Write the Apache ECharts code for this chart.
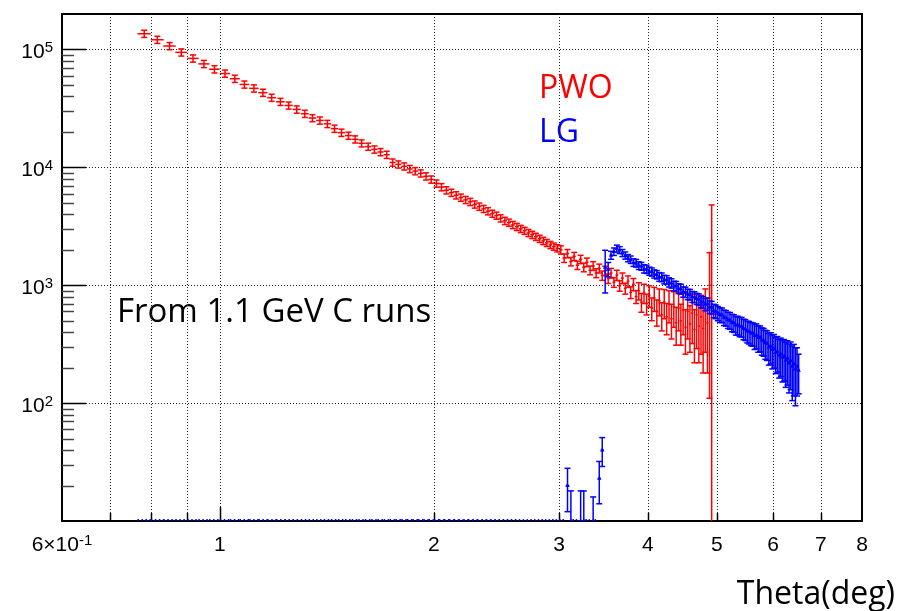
<!DOCTYPE html>
<html>
<head>
<meta charset="utf-8">
<script src="https://cdn.jsdelivr.net/npm/echarts@6.0.0/dist/echarts.min.js"></script>
<style>
  html, body { margin: 0; padding: 0; background: #fff; }
  #chart { width: 907px; height: 611px; }
</style>
</head>
<body>
<div id="chart"></div>
<script>
// axis ranges
const xMin = 0.6, xMax = 8;
const yMin = 10, yMax = 200000;

// tick marks / grid / labels
const xGridLines = [0.7, 0.8, 0.9, 1, 2, 3, 4, 5, 6, 7];
const xMajorTicks = [1];
const xTickValues = [0.6, 1, 2, 3, 4, 5, 6, 7, 8];
const xTickTexts = ['6×10', '1', '2', '3', '4', '5', '6', '7', '8'];
const xTickExps = ['-1', '', '', '', '', '', '', '', ''];
const yMajorTicks = [100, 1000, 10000, 100000];
const yTickExps = ['2', '3', '4', '5'];
const yMinorTicks = [20, 30, 40, 50, 60, 70, 80, 90,
  200, 300, 400, 500, 600, 700, 800, 900,
  2000, 3000, 4000, 5000, 6000, 7000, 8000, 9000,
  20000, 30000, 40000, 50000, 60000, 70000, 80000, 90000];

// bin centres (deg)
const theta = [
  0.783, 0.817, 0.850, 0.883, 0.917, 0.950, 0.983,
  1.017, 1.050, 1.083, 1.117, 1.150, 1.183, 1.217, 1.250, 1.283, 1.317, 1.350, 1.383, 1.417, 1.450,
  1.483, 1.517, 1.550, 1.583, 1.617, 1.650, 1.683, 1.717, 1.750, 1.783, 1.817, 1.850, 1.883, 1.917, 1.950, 1.983,
  2.017, 2.050, 2.083, 2.117, 2.150, 2.183, 2.217, 2.250, 2.283, 2.317, 2.350, 2.383, 2.417, 2.450,
  2.483, 2.517, 2.550, 2.583, 2.617, 2.650, 2.683, 2.717, 2.750, 2.783, 2.817, 2.850, 2.883, 2.917, 2.950, 2.983,
  3.017, 3.050, 3.083, 3.117, 3.150, 3.183, 3.217, 3.250, 3.283, 3.317, 3.350, 3.383, 3.417, 3.450,
  3.483, 3.517, 3.550, 3.583, 3.617, 3.650, 3.683, 3.717, 3.750, 3.783, 3.817, 3.850, 3.883, 3.917, 3.950, 3.983,
  4.017, 4.050, 4.083, 4.117, 4.150, 4.183, 4.217, 4.250, 4.283, 4.317, 4.350, 4.383, 4.417, 4.450,
  4.483, 4.517, 4.550, 4.583, 4.617, 4.650, 4.683, 4.717, 4.750, 4.783, 4.817, 4.850, 4.883, 4.917, 4.950, 4.983,
  5.017, 5.050, 5.083, 5.117, 5.150, 5.183, 5.217, 5.250, 5.283, 5.317, 5.350, 5.383, 5.417, 5.450,
  5.483, 5.517, 5.550, 5.583, 5.617, 5.650, 5.683, 5.717, 5.750, 5.783, 5.817, 5.850, 5.883, 5.917, 5.950, 5.983,
  6.017, 6.050, 6.083, 6.117, 6.150, 6.183, 6.217, 6.250, 6.283, 6.317, 6.350, 6.383, 6.417, 6.450, 6.483, 6.517
];

// PWO counts (starting at first bin)
const pwo = [
  136000, 121000, 107000, 94500, 84000, 75500, 68000,
  62500, 56500, 50500, 46800, 43000, 39000, 36000, 33500, 31000, 28500,
  26200, 25000, 23400, 21300, 19700, 18600, 17300, 16000, 15000, 14200,
  13500, 12800, 11000, 10600, 10200, 9700, 9300, 8900, 8400, 7900,
  7300, 6800, 6400, 6100, 5800, 5550, 5300, 5100, 4850, 4650,
  4450, 4250, 4050, 3900, 3700, 3520, 3400, 3250, 3130, 3010,
  2900, 2780, 2680, 2580, 2480, 2380, 2290, 2200, 2130, 2060,
  2000, 1700, 1860, 1590, 1760, 1480, 1660, 1420, 1570, 1340,
  1460, 1270, 1390, 1210, 1330, 1140, 1270, 1060, 1220, 990,
  1150, 940, 1080, 870, 1020, 800, 900, 720, 860, 700,
  820, 640, 780, 600, 740, 560, 720, 540, 690, 520,
  660, 480, 640, 500, 620, 440, 600, 470, 580, 420,
  560, 450, 540, 430, 600, 480, 1000, 2400
];
const pwoErr = [
  9500, 8500, 7500, 6600, 5900, 5300, 4800,
  4400, 4000, 3500, 3300, 3000, 2700, 2500, 2300, 2200, 2000,
  1800, 1750, 1650, 1500, 1400, 1300, 1200, 1100, 1050, 1000,
  950, 900, 770, 740, 710, 680, 650, 620, 590, 550,
  510, 480, 450, 430, 410, 390, 370, 360, 340, 330,
  310, 300, 280, 270, 260, 250, 240, 230, 220, 210,
  200, 195, 190, 180, 175, 170, 160, 155, 150, 145,
  160, 140, 150, 130, 140, 120, 135, 120, 130, 115,
  125, 110, 120, 110, 120, 105, 120, 100, 120, 100,
  120, 100, 120, 100, 120, 100, 150, 130, 160, 140,
  170, 140, 180, 150, 190, 150, 200, 160, 210, 170,
  220, 170, 230, 190, 240, 180, 250, 200, 260, 200,
  270, 230, 280, 250, 330, 300, 890, 2400
];

// LG counts
const lg = [
  0, 0, 0, 0, 0, 0, 0,
  0, 0, 0, 0, 0, 0, 0, 0, 0, 0,
  0, 0, 0, 0, 0, 0, 0, 0, 0, 0,
  0, 0, 0, 0, 0, 0, 0, 0, 0, 0,
  0, 0, 0, 0, 0, 0, 0, 0, 0, 0,
  0, 0, 0, 0, 0, 0, 0, 0, 0, 0,
  0, 0, 0, 0, 0, 0, 0, 0, 0, 0,
  0, 0, 20, 9, 0, 0, 9, 9, 0, 0,
  8, 0, 23, 40, 1420, 1370, 1800, 1930, 2050, 1990,
  1880, 1790, 1700, 1650, 1560, 1540, 1470, 1450, 1380, 1370,
  1320, 1300, 1250, 1230, 1180, 1170, 1120, 1110, 1060, 1040,
  990, 985, 940, 930, 880, 875, 840, 835, 800, 795,
  770, 760, 725, 720, 690, 695, 655, 650, 610, 600,
  580, 565, 560, 535, 530, 510, 505, 485, 480, 460,
  462, 450, 448, 430, 425, 410, 405, 395, 392, 375,
  380, 360, 362, 345, 340, 325, 320, 300, 305, 285,
  290, 270, 275, 255, 262, 245, 250, 232, 240, 220,
  230, 205, 215, 195, 205, 190
];
const lgErr = [
  0, 0, 0, 0, 0, 0, 0,
  0, 0, 0, 0, 0, 0, 0, 0, 0, 0,
  0, 0, 0, 0, 0, 0, 0, 0, 0, 0,
  0, 0, 0, 0, 0, 0, 0, 0, 0, 0,
  0, 0, 0, 0, 0, 0, 0, 0, 0, 0,
  0, 0, 0, 0, 0, 0, 0, 0, 0, 0,
  0, 0, 0, 0, 0, 0, 0, 0, 0, 0,
  0, 0, 8, 9, 0, 0, 9, 9, 0, 0,
  8, 0, 9, 11, 560, 190, 140, 140, 140, 135,
  130, 125, 120, 120, 115, 115, 110, 110, 110, 110,
  105, 105, 100, 100, 100, 100, 95, 95, 95, 95,
  92, 92, 90, 90, 88, 88, 86, 86, 85, 85,
  84, 84, 82, 82, 82, 82, 80, 80, 80, 80,
  80, 80, 80, 80, 80, 80, 82, 82, 82, 82,
  84, 84, 85, 85, 86, 86, 88, 88, 88, 90,
  90, 90, 90, 90, 90, 90, 90, 90, 90, 90,
  92, 92, 92, 92, 94, 94, 96, 96, 98, 98,
  100, 100, 100, 100, 90, 70
];

const binHalf = (theta[1] - theta[0]) / 2;
const px = v => Math.round(v) + 0.5;

function seg(x1, y1, x2, y2, style) {
  return { type: 'line', shape: { x1, y1, x2, y2 }, style };
}

// ROOT-like E1 histogram: bin-width bar, error bar with caps, optional marker
function histRender(color, withMarker) {
  return function (params, api) {
    const t = api.value(0), v = api.value(1), e = api.value(2);
    const cs = params.coordSys;
    const bottom = cs.y + cs.height;
    const st = { stroke: color, lineWidth: 1.5 };
    const xl = api.coord([t - binHalf, yMin])[0];
    const xr = api.coord([t + binHalf, yMin])[0];
    const xc = api.coord([t, yMin])[0];
    const children = [];
    if (v <= 0) {
      children.push(seg(xl, bottom - 1, xr, bottom - 1,
        { stroke: color, lineWidth: 1.8, lineDash: [1.5, 2.5] }));
      return { type: 'group', children };
    }
    const yv = v > yMin ? api.coord([t, v])[1] : bottom;
    const yHi = v + e > yMin ? api.coord([t, v + e])[1] : bottom;
    const yLo = v - e > yMin ? api.coord([t, v - e])[1] : bottom;
    children.push(seg(xl, yv, xr, yv, st));
    if (e > 0) {
      children.push(seg(xc, yHi, xc, yLo, st));
      children.push(seg(xc - 3, yHi, xc + 3, yHi, st));
      if (v - e > yMin) children.push(seg(xc - 3, yLo, xc + 3, yLo, st));
    }
    if (withMarker) {
      children.push({
        type: 'polygon',
        shape: { points: [[xc, yv - 2.5], [xc - 2.2, yv + 1.5], [xc + 2.2, yv + 1.5]] },
        style: { fill: color }
      });
    }
    return { type: 'group', children };
  };
}

const dotted = { stroke: '#222', lineWidth: 1, lineDash: [1, 2] };
const textFont = '32px "Open Sans"';

const option = {
  animation: false,
  backgroundColor: '#fff',
  grid: {
    left: 62, right: 45, top: 14, bottom: 90,
    show: true, borderColor: '#000', borderWidth: 2
  },
  xAxis: {
    type: 'log', logBase: 10, min: xMin, max: xMax,
    axisLine: { show: false }, axisTick: { show: false },
    axisLabel: { show: false }, splitLine: { show: false }
  },
  yAxis: {
    type: 'log', logBase: 10, min: yMin, max: yMax,
    axisLine: { show: false }, axisTick: { show: false },
    axisLabel: { show: false }, splitLine: { show: false }
  },
  graphic: [
    { type: 'text', x: 539, y: 89, style: { text: 'PWO', fill: '#ff0000', font: textFont, textVerticalAlign: 'middle', verticalAlign: 'middle' } },
    { type: 'text', x: 539, y: 133, style: { text: 'LG', fill: '#0000ff', font: textFont, textVerticalAlign: 'middle', verticalAlign: 'middle' } },
    { type: 'text', x: 117, y: 313, style: { text: 'From 1.1 GeV C runs', fill: '#000', font: '33px "Open Sans"', textVerticalAlign: 'middle', verticalAlign: 'middle' } },
    { type: 'text', x: 895, y: 595, style: { text: 'Theta(deg)', fill: '#000', font: textFont, textAlign: 'right', align: 'right', textVerticalAlign: 'middle', verticalAlign: 'middle' } }
  ],
  series: [
    {
      // vertical grid lines + bottom ticks
      type: 'custom', silent: true, clip: false,
      data: xGridLines.map(v => [v, yMin]),
      encode: { x: 0, y: 1 },
      renderItem: (params, api) => {
        const v = api.value(0);
        const cs = params.coordSys;
        const x = px(api.coord([v, yMin])[0]);
        const bottom = cs.y + cs.height;
        const len = xMajorTicks.includes(v) ? 14 : 8;
        return {
          type: 'group', children: [
            seg(x, cs.y, x, bottom, dotted),
            seg(x, bottom - len, x, bottom, { stroke: '#000', lineWidth: 1.5 })
          ]
        };
      }
    },
    {
      // horizontal grid lines + major ticks + labels
      type: 'custom', silent: true, clip: false,
      data: yMajorTicks.map((v, i) => [xMin, v, i]),
      encode: { x: 0, y: 1 },
      renderItem: (params, api) => {
        const v = api.value(1);
        const cs = params.coordSys;
        const y = px(api.coord([xMin, v])[1]);
        return {
          type: 'group', children: [
            seg(cs.x, y, cs.x + cs.width, y, dotted),
            seg(cs.x, y, cs.x + 24, y, { stroke: '#000', lineWidth: 1.5 }),
            {
              type: 'text', x: cs.x - 9, y: y + 3,
              style: {
                text: '{b|10}{s|' + yTickExps[api.value(2)] + '}',
                align: 'right', verticalAlign: 'middle',
                textAlign: 'right', textVerticalAlign: 'middle',
                rich: {
                  b: { fontSize: 21, fontFamily: 'Liberation Sans', fill: '#000', lineHeight: 24 },
                  s: { fontSize: 15, fontFamily: 'Liberation Sans', fill: '#000', verticalAlign: 'top', lineHeight: 15 }
                }
              }
            }
          ]
        };
      }
    },
    {
      // y minor ticks
      type: 'custom', silent: true, clip: false,
      data: yMinorTicks.map(v => [xMin, v]),
      encode: { x: 0, y: 1 },
      renderItem: (params, api) => {
        const cs = params.coordSys;
        const y = px(api.coord([xMin, api.value(1)])[1]);
        return seg(cs.x, y, cs.x + 12, y, { stroke: '#444', lineWidth: 1.5 });
      }
    },
    {
      // x tick labels
      type: 'custom', silent: true, clip: false,
      data: xTickValues.map((v, i) => [v, yMin, i]),
      encode: { x: 0, y: 1 },
      renderItem: (params, api) => {
        const i = api.value(2);
        const p = api.coord([api.value(0), yMin]);
        const exp = xTickExps[i];
        return {
          type: 'text', x: p[0], y: p[1] + 24,
          style: {
            text: '{b|' + xTickTexts[i] + '}' + (exp ? '{s|' + exp + '}' : ''),
            align: 'center', verticalAlign: 'middle',
            textAlign: 'center', textVerticalAlign: 'middle',
            rich: {
              b: { fontSize: 21, fontFamily: 'Liberation Sans', fill: '#000', lineHeight: 24 },
              s: { fontSize: 15, fontFamily: 'Liberation Sans', fill: '#000', verticalAlign: 'top', lineHeight: 15 }
            }
          }
        };
      }
    },
    {
      name: 'PWO', type: 'custom', clip: true,
      data: pwo.map((v, i) => [theta[i], v, pwoErr[i]]),
      encode: { x: 0, y: 1 },
      renderItem: histRender('#ff0000', false)
    },
    {
      name: 'LG', type: 'custom', clip: true,
      data: lg.map((v, i) => [theta[i], v, lgErr[i]]),
      encode: { x: 0, y: 1 },
      renderItem: histRender('#0000ff', true)
    }
  ]
};

const chart = echarts.init(document.getElementById('chart'));
chart.setOption(option);
</script>
</body>
</html>
